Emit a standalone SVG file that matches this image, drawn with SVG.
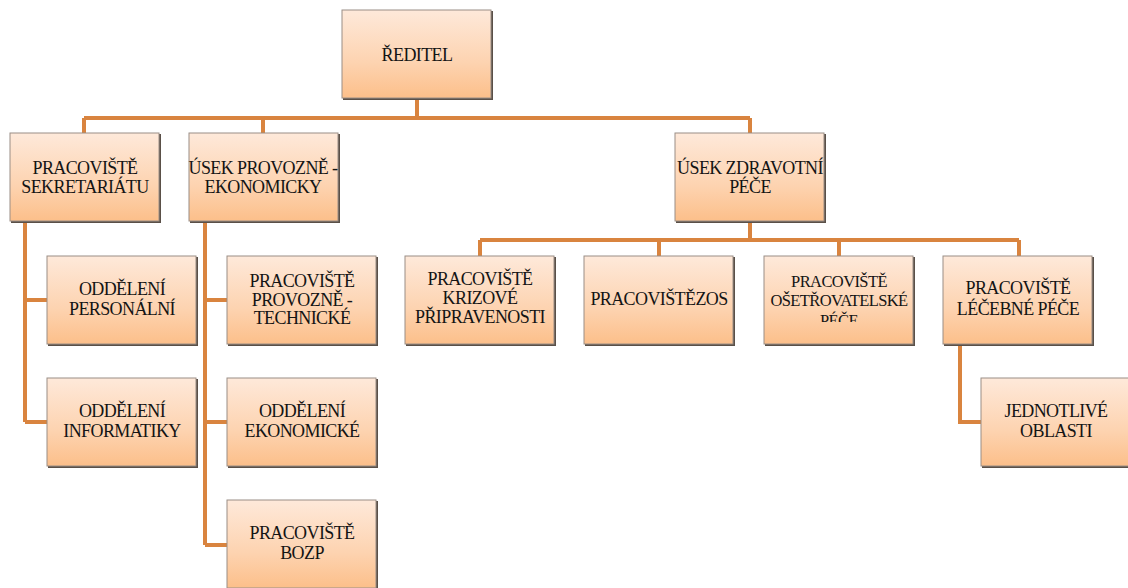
<svg xmlns="http://www.w3.org/2000/svg" width="1128" height="588" viewBox="0 0 1128 588">
<defs>
<linearGradient id="g" x1="0" y1="0" x2="0" y2="1">
<stop offset="0" stop-color="#FEE9DA"/>
<stop offset="0.6" stop-color="#FDD3B0"/>
<stop offset="1" stop-color="#FCBF8A"/>
</linearGradient>
<clipPath id="c1"><rect x="764" y="256" width="149" height="66"/></clipPath>
</defs>
<style>
.sh{fill:#5a5048}
.b{fill:url(#g);stroke:#9a8e86;stroke-width:1}
.t{font-family:"Liberation Serif","Times New Roman",serif;font-size:18px;letter-spacing:-0.6px;fill:#141414;text-anchor:middle}
.s{font-size:16.5px}
.l{stroke:#D9843F;stroke-width:4;fill:none}
</style>
<rect width="1128" height="588" fill="#ffffff"/>
<g id="connectors">
<path class="l" d="M417 98V118M84 118H750M84 118V133M263 118V133M750 118V133"/>
<path class="l" d="M750 220V240M480 240H1019M480 240V256M659 240V256M839 240V256M1019 240V256"/>
<path class="l" d="M25 220V422M25 300H47M25 422H47"/>
<path class="l" d="M205 220V545M205 300H227M205 422H227M205 545H227"/>
<path class="l" d="M960 344V422H981"/>
</g>
<g id="n-reditel"><rect class="sh" x="343" y="11" width="150" height="89"/><rect class="b" x="342" y="10" width="149" height="88"/><text class="t" x="417" y="61">ŘEDITEL</text></g>
<g id="n-sekretariat"><rect class="sh" x="11" y="134" width="150" height="89"/><rect class="b" x="10" y="133" width="149" height="88"/><text class="t" x="85" y="174">PRACOVIŠTĚ</text><text class="t" x="85" y="193">SEKRETARIÁTU</text></g>
<g id="n-provozne"><rect class="sh" x="190" y="134" width="150" height="89"/><rect class="b" x="189" y="133" width="149" height="88"/><text class="t" x="263" y="174">ÚSEK PROVOZNĚ -</text><text class="t" x="263" y="193">EKONOMICKY</text></g>
<g id="n-zdravotni"><rect class="sh" x="676" y="134" width="150" height="89"/><rect class="b" x="675" y="133" width="149" height="88"/><text class="t" x="750" y="174">ÚSEK ZDRAVOTNÍ</text><text class="t" x="750" y="193">PÉČE</text></g>
<g id="n-personalni"><rect class="sh" x="48" y="257" width="150" height="89"/><rect class="b" x="47" y="256" width="149" height="88"/><text class="t" x="122" y="295">ODDĚLENÍ</text><text class="t" x="122" y="315">PERSONÁLNÍ</text></g>
<g id="n-informatiky"><rect class="sh" x="48" y="379" width="150" height="89"/><rect class="b" x="47" y="378" width="149" height="88"/><text class="t" x="122" y="417">ODDĚLENÍ</text><text class="t" x="122" y="437">INFORMATIKY</text></g>
<g id="n-technicke"><rect class="sh" x="228" y="257" width="150" height="89"/><rect class="b" x="227" y="256" width="149" height="88"/><text class="t" x="302" y="287">PRACOVIŠTĚ</text><text class="t" x="302" y="306">PROVOZNĚ -</text><text class="t" x="302" y="324">TECHNICKÉ</text></g>
<g id="n-ekonomicke"><rect class="sh" x="228" y="379" width="150" height="89"/><rect class="b" x="227" y="378" width="149" height="88"/><text class="t" x="302" y="417">ODDĚLENÍ</text><text class="t" x="302" y="437">EKONOMICKÉ</text></g>
<g id="n-bozp"><rect class="sh" x="228" y="501" width="150" height="89"/><rect class="b" x="227" y="500" width="149" height="88"/><text class="t" x="302" y="539">PRACOVIŠTĚ</text><text class="t" x="302" y="559">BOZP</text></g>
<g id="n-krizove"><rect class="sh" x="406" y="257" width="150" height="89"/><rect class="b" x="405" y="256" width="149" height="88"/><text class="t" x="480" y="285">PRACOVIŠTĚ</text><text class="t" x="480" y="304">KRIZOVÉ</text><text class="t" x="480" y="323">PŘIPRAVENOSTI</text></g>
<g id="n-zos"><rect class="sh" x="585" y="257" width="150" height="89"/><rect class="b" x="584" y="256" width="149" height="88"/><text class="t" x="659" y="305">PRACOVIŠTĚZOS</text></g>
<g id="n-osetrovatelske"><rect class="sh" x="765" y="257" width="150" height="89"/><rect class="b" x="764" y="256" width="149" height="88"/><g clip-path="url(#c1)"><text class="t s" x="839" y="287">PRACOVIŠTĚ</text><text class="t s" x="839" y="306">OŠETŘOVATELSKÉ</text><text class="t s" x="839" y="326">PÉČE</text></g></g>
<g id="n-lecebne"><rect class="sh" x="944" y="257" width="150" height="89"/><rect class="b" x="943" y="256" width="149" height="88"/><text class="t" x="1018" y="294">PRACOVIŠTĚ</text><text class="t" x="1018" y="315">LÉČEBNÉ PÉČE</text></g>
<g id="n-oblasti"><rect class="sh" x="982" y="379" width="150" height="89"/><rect class="b" x="981" y="378" width="149" height="88"/><text class="t" x="1056" y="417">JEDNOTLIVÉ</text><text class="t" x="1056" y="437">OBLASTI</text></g>
</svg>
